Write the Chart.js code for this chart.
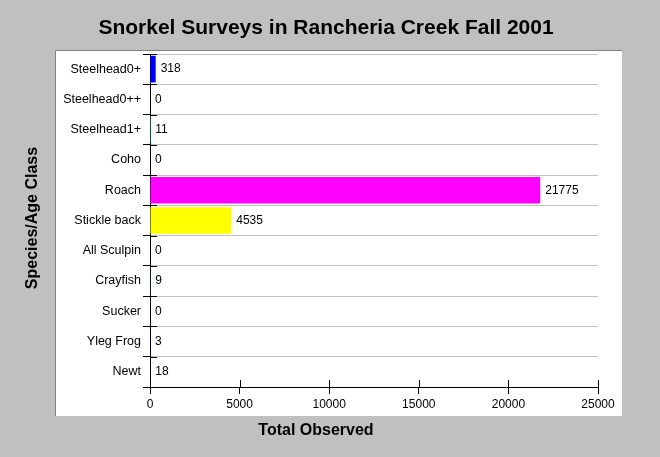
<!DOCTYPE html>
<html>
<head>
<meta charset="utf-8">
<script src="https://cdn.jsdelivr.net/npm/chart.js@4/dist/chart.umd.min.js"></script>
<style>
  html, body { margin: 0; padding: 0; background: #c0c0c0; }
  canvas { display: block; }
</style>
</head>
<body>
<canvas id="chart" width="660" height="457"></canvas>
<script>
const categories = ['Steelhead0+', 'Steelhead0++', 'Steelhead1+', 'Coho', 'Roach', 'Stickle back',
    'All Sculpin', 'Crayfish', 'Sucker', 'Yleg Frog', 'Newt'];
const counts = [318, 0, 11, 0, 21775, 4535, 0, 9, 0, 3, 18];
const barColors = ['#0000ff', '#ff0000', '#00ffff', '#ff8000', '#ff00ff', '#ffff00',
    '#808080', '#008000', '#800000', '#000080', '#800080'];
const xTicks = [0, 5000, 10000, 15000, 20000, 25000];

const chartTitle = 'Snorkel Surveys in Rancheria Creek Fall 2001';
const xTitle = 'Total Observed';
const yTitle = 'Species/Age Class';

// grey window with a white panel behind the plot
const panel = {
    id: 'panel',
    beforeDraw(chart) {
        const c = chart.ctx;
        c.save();
        c.fillStyle = '#c0c0c0';
        c.fillRect(0, 0, chart.width, chart.height);
        c.fillStyle = '#ffffff';
        c.fillRect(55, 50, 567, 366);
        c.strokeStyle = '#808080';
        c.lineWidth = 1;
        c.beginPath();
        c.moveTo(55.5, 416);
        c.lineTo(55.5, 50.5);
        c.lineTo(622, 50.5);
        c.stroke();
        c.restore();
    },
    afterDraw(chart) {
        const c = chart.ctx;
        const xs = chart.scales.x;
        const ys = chart.scales.y;
        const area = chart.chartArea;
        c.save();
        // inner half of the crossing tick marks
        c.strokeStyle = '#000';
        c.lineWidth = 1;
        c.beginPath();
        for (let i = 0; i <= categories.length; i++) {
            const y = Math.round(ys.getPixelForValue(i - 0.5)) + 0.5;
            c.moveTo(area.left, y);
            c.lineTo(area.left + 7, y);
        }
        xTicks.forEach(v => {
            const x = Math.round(xs.getPixelForValue(v)) + 0.5;
            c.moveTo(x, area.bottom);
            c.lineTo(x, area.bottom - 7);
        });
        c.stroke();

        // value labels
        c.fillStyle = '#000';
        c.font = '12px "Liberation Sans", Arial, sans-serif';
        c.textAlign = 'left';
        c.textBaseline = 'middle';
        chart.getDatasetMeta(0).data.forEach((el, i) => {
            c.fillText(String(counts[i]), Math.max(el.x, area.left) + 5, el.y);
        });

        // titles
        c.font = 'bold 21px "Liberation Sans", Arial, sans-serif';
        c.textAlign = 'center';
        c.fillText(chartTitle, 326, 28);
        c.font = 'bold 16px "Liberation Sans", Arial, sans-serif';
        c.fillText(xTitle, 316, 431);
        c.translate(33, 218);
        c.rotate(-Math.PI / 2);
        c.fillText(yTitle, 0, 0);
        c.restore();
    }
};

new Chart(document.getElementById('chart'), {
    type: 'bar',
    data: {
        labels: categories,
        datasets: [{
            label: 'Total Observed',
            data: counts,
            backgroundColor: barColors,
            borderWidth: 0,
            categoryPercentage: 1,
            barPercentage: 0.88,
        }],
    },
    options: {
        indexAxis: 'y',
        responsive: false,
        devicePixelRatio: 1,
        animation: false,
        layout: { padding: { left: 55, top: 54, right: 62, bottom: 40 } },
        plugins: {
            legend: { display: false },
            tooltip: { enabled: false },
            title: { display: false },
        },
        scales: {
            x: {
                min: 0,
                max: 25000,
                afterFit: (scale) => { scale.height = 30; },
                afterBuildTicks: (scale) => { scale.ticks = xTicks.map(v => ({ value: v })); },
                ticks: {
                    color: '#000',
                    font: { family: '"Liberation Sans", Arial, sans-serif', size: 12 },
                    padding: 3,
                    maxRotation: 0,
                    callback: (v) => String(v),
                },
                grid: {
                    drawOnChartArea: false,
                    tickColor: '#000',
                    tickLength: 7,
                },
                border: { color: '#000' },
            },
            y: {
                afterFit: (scale) => { scale.width = 95; },
                ticks: {
                    color: '#000',
                    font: { family: '"Liberation Sans", Arial, sans-serif', size: 12.5 },
                    padding: 2,
                },
                grid: {
                    offset: true,
                    color: '#c0c0c0',
                    tickColor: '#000',
                    tickLength: 7,
                },
                border: { color: '#000' },
            },
        },
    },
    plugins: [panel],
});
</script>
</body>
</html>
